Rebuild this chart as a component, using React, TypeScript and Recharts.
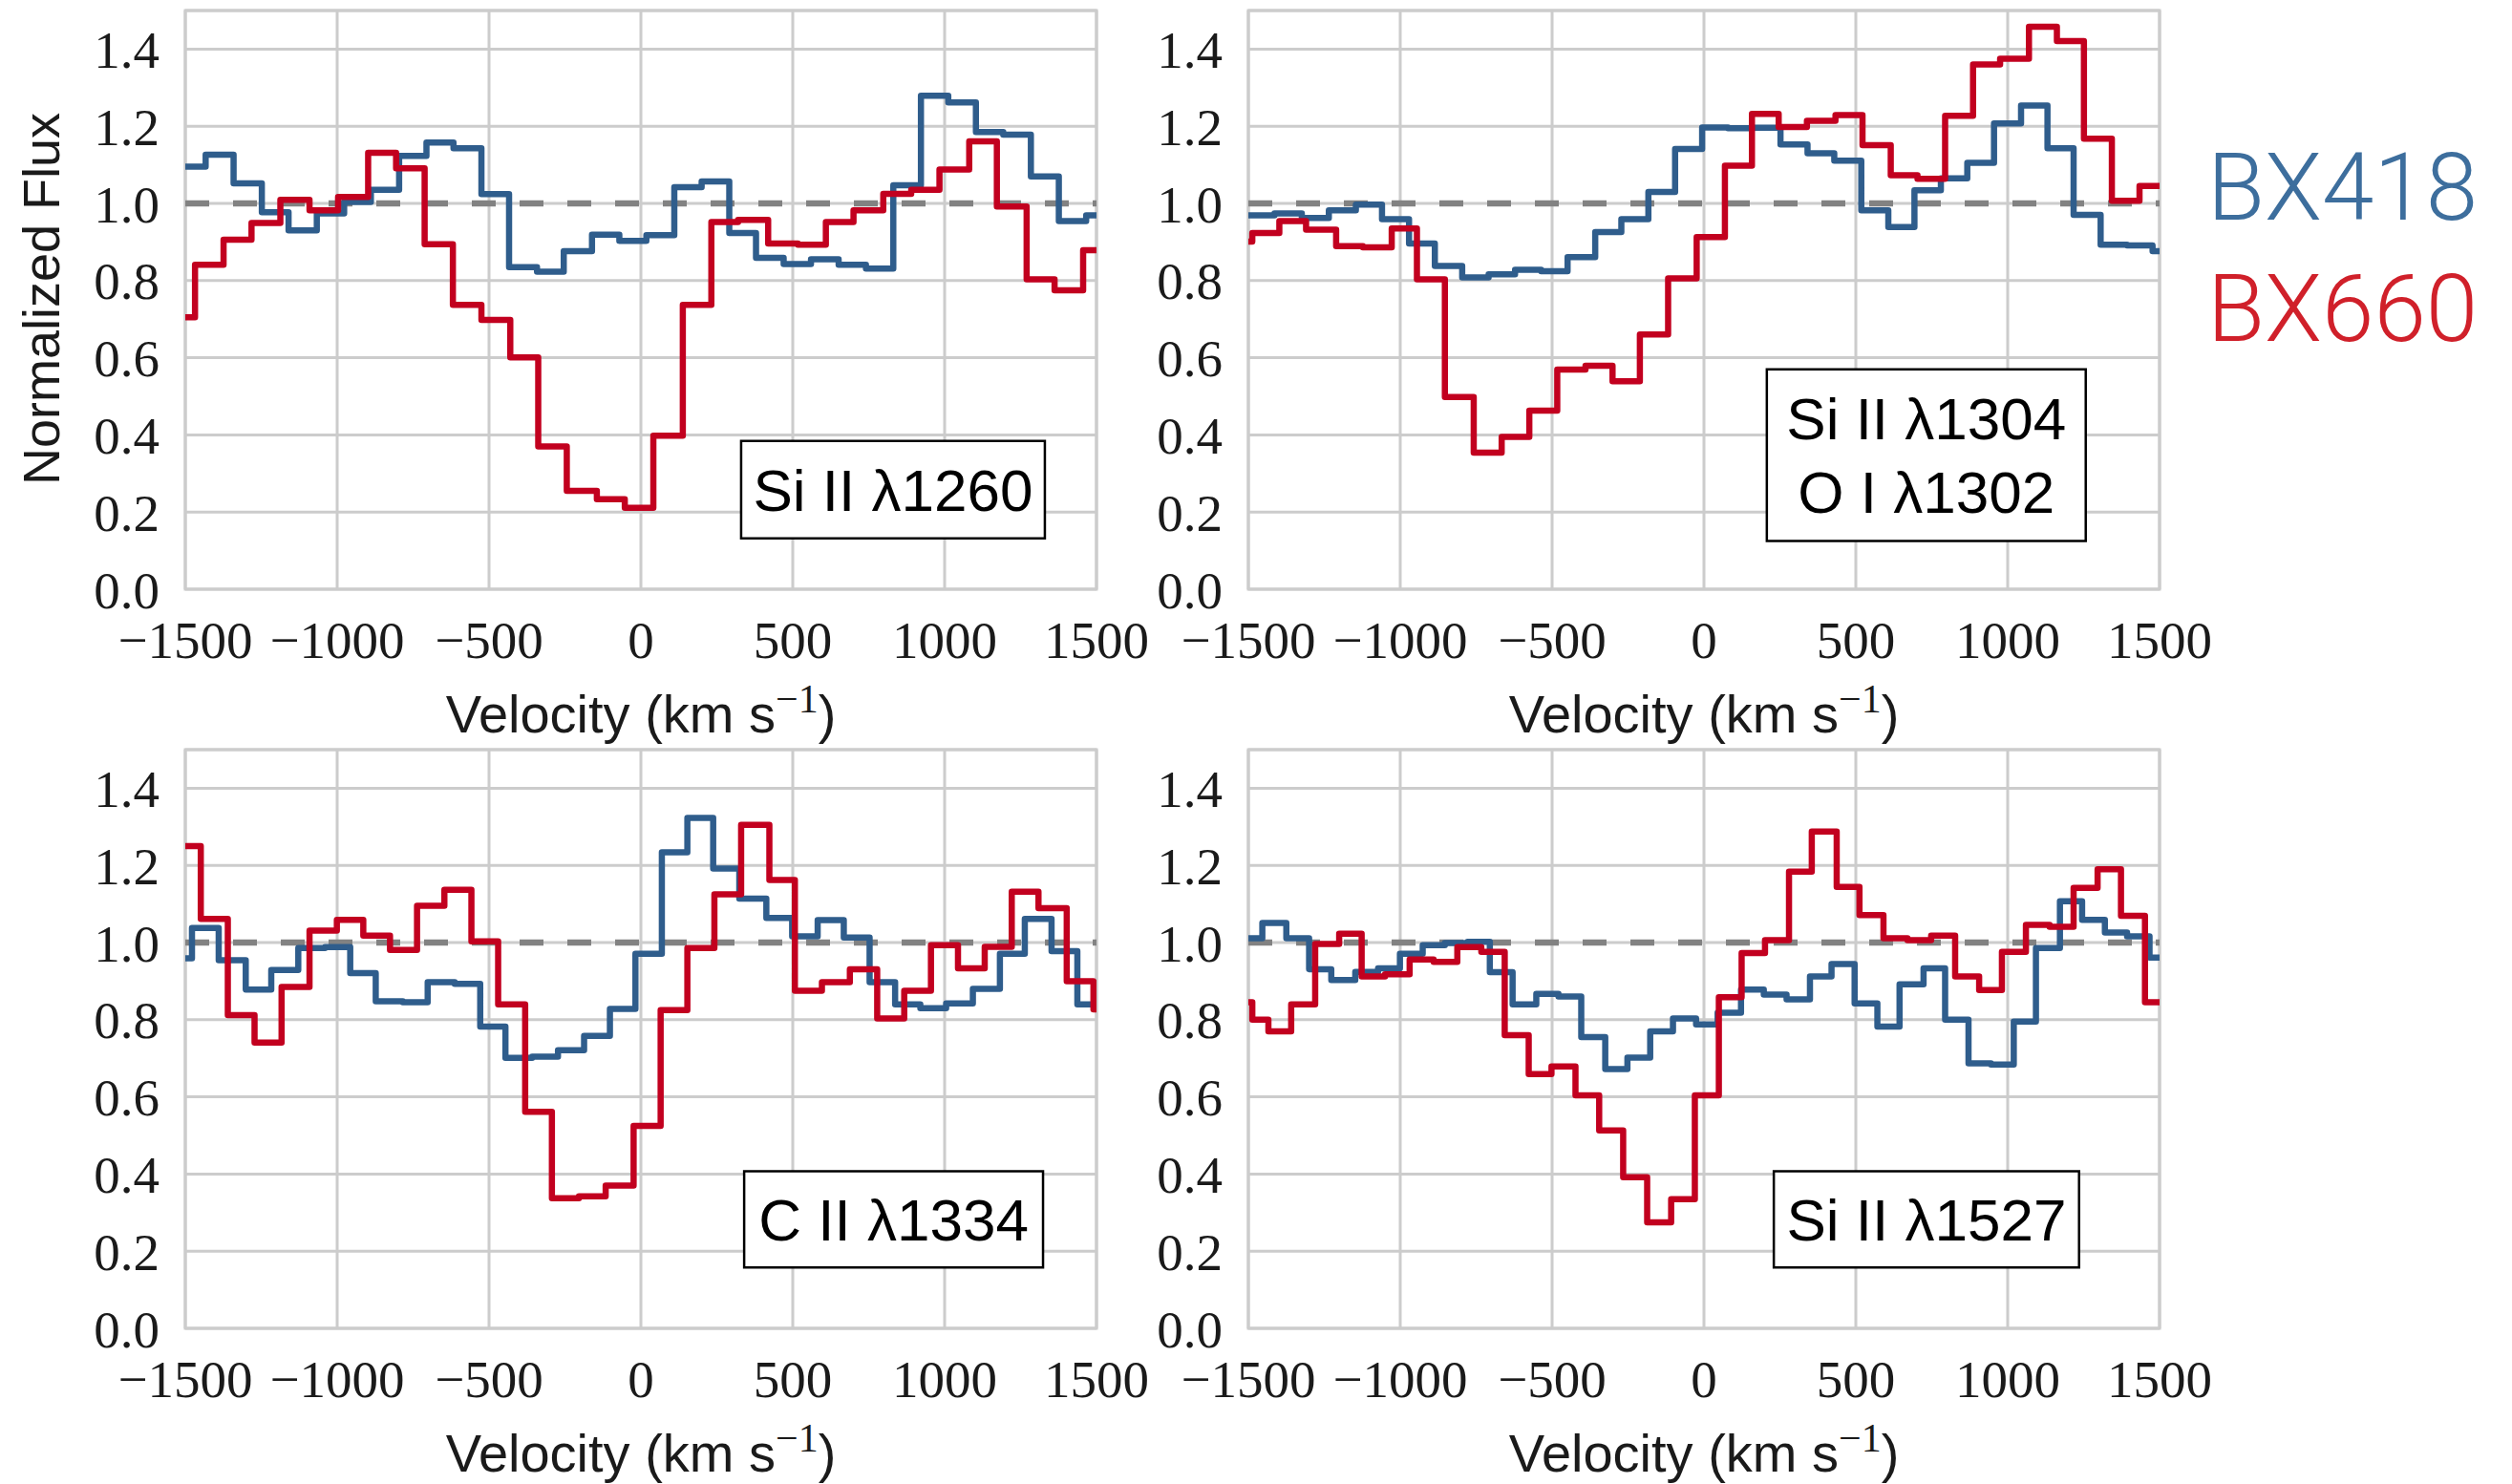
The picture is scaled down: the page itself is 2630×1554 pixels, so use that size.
import React from 'react';
import {
  LineChart,
  Line,
  XAxis,
  YAxis,
  CartesianGrid,
  ReferenceLine,
  ReferenceArea,
} from 'recharts';

// ---- axis ticks ----
const VELOCITY_TICKS = [-1500, -1000, -500, 0, 500, 1000, 1500];
const FLUX_TICKS = [0, 0.2, 0.4, 0.6, 0.8, 1.0, 1.2, 1.4];

// ---- Si II 1260 ----
const si1260VelBX418 = [-1500, -1433, -1341, -1248, -1160, -1067, -977, -889, -796, -706, -617, -525, -434, -342, -254, -161, -71, 18, 110, 200, 291, 379, 470, 560, 651, 741, 831, 922, 1012, 1103, 1193, 1284, 1376, 1466];
const si1260FluxBX418 = [1.095, 1.126, 1.052, 0.977, 0.93, 0.974, 1.004, 1.035, 1.123, 1.158, 1.143, 1.024, 0.835, 0.823, 0.876, 0.919, 0.903, 0.918, 1.042, 1.057, 0.923, 0.859, 0.843, 0.855, 0.841, 0.831, 1.047, 1.279, 1.262, 1.185, 1.178, 1.07, 0.954, 0.969];
const si1260VelBX660 = [-1500, -1468, -1374, -1282, -1187, -1091, -997, -898, -806, -712, -619, -525, -430, -338, -244, -145, -53, 41, 138, 232, 320, 419, 517, 609, 700, 798, 890, 983, 1081, 1172, 1270, 1362, 1456];
const si1260FluxBX660 = [0.705, 0.841, 0.906, 0.949, 1.009, 0.982, 1.017, 1.131, 1.091, 0.894, 0.737, 0.698, 0.601, 0.37, 0.255, 0.233, 0.211, 0.398, 0.737, 0.952, 0.957, 0.896, 0.893, 0.952, 0.982, 1.025, 1.035, 1.088, 1.161, 0.992, 0.803, 0.775, 0.879];

// ---- Si II 1304 / O I 1302 ----
const si1304VelBX418 = [-1500, -1414, -1324, -1235, -1146, -1060, -971, -886, -796, -709, -622, -536, -449, -358, -272, -183, -95, -6, 79, 163, 252, 341, 429, 518, 607, 693, 780, 867, 955, 1044, 1131, 1217, 1306, 1393, 1477];
const si1304FluxBX418 = [0.969, 0.974, 0.962, 0.982, 0.997, 0.959, 0.896, 0.838, 0.808, 0.816, 0.828, 0.824, 0.861, 0.926, 0.959, 1.03, 1.141, 1.197, 1.195, 1.196, 1.153, 1.13, 1.111, 0.982, 0.939, 1.034, 1.065, 1.105, 1.207, 1.254, 1.143, 0.97, 0.893, 0.891, 0.876];
const si1304VelBX660 = [-1500, -1487, -1398, -1310, -1211, -1123, -1028, -945, -853, -758, -666, -575, -483, -390, -301, -211, -118, -24, 69, 158, 246, 339, 433, 522, 615, 703, 794, 886, 975, 1070, 1162, 1251, 1343, 1434];
const si1304FluxBX660 = [0.901, 0.923, 0.954, 0.932, 0.889, 0.886, 0.935, 0.803, 0.498, 0.354, 0.395, 0.463, 0.569, 0.579, 0.539, 0.66, 0.806, 0.913, 1.098, 1.232, 1.198, 1.214, 1.229, 1.151, 1.073, 1.064, 1.227, 1.36, 1.375, 1.458, 1.421, 1.168, 1.007, 1.045];

// ---- C II 1334 ----
const c1334VelBX418 = [-1500, -1478, -1390, -1301, -1217, -1128, -1040, -957, -873, -784, -702, -613, -529, -446, -358, -273, -187, -102, -18, 69, 153, 238, 324, 413, 498, 582, 668, 753, 837, 920, 1005, 1093, 1182, 1264, 1352, 1437];
const c1334FluxBX418 = [0.959, 1.038, 0.954, 0.878, 0.929, 0.986, 0.988, 0.921, 0.848, 0.845, 0.897, 0.893, 0.782, 0.701, 0.704, 0.721, 0.758, 0.828, 0.971, 1.234, 1.323, 1.192, 1.114, 1.064, 1.016, 1.058, 1.013, 0.897, 0.84, 0.83, 0.842, 0.88, 0.971, 1.061, 0.978, 0.84];
const c1334VelBX660 = [-1500, -1449, -1360, -1272, -1183, -1091, -1001, -914, -826, -737, -647, -558, -470, -381, -293, -204, -116, -24, 65, 153, 242, 330, 423, 507, 596, 688, 778, 867, 955, 1044, 1132, 1221, 1309, 1402, 1490];
const c1334FluxBX660 = [1.25, 1.061, 0.812, 0.741, 0.885, 1.031, 1.059, 1.018, 0.981, 1.095, 1.137, 1.003, 0.84, 0.561, 0.337, 0.342, 0.37, 0.525, 0.825, 0.986, 1.125, 1.305, 1.162, 0.875, 0.897, 0.931, 0.803, 0.875, 0.993, 0.933, 0.989, 1.132, 1.089, 0.9, 0.827];

// ---- Si II 1527 ----
const si1527VelBX418 = [-1500, -1454, -1375, -1300, -1227, -1148, -1073, -1001, -926, -853, -778, -705, -630, -552, -479, -404, -325, -252, -177, -102, -26, 45, 122, 197, 272, 349, 420, 496, 571, 644, 723, 794, 871, 945, 1020, 1093, 1172, 1245, 1320, 1393, 1467];
const si1527FluxBX418 = [1.011, 1.051, 1.011, 0.931, 0.903, 0.924, 0.933, 0.971, 0.993, 0.999, 1.002, 0.923, 0.84, 0.867, 0.86, 0.755, 0.672, 0.702, 0.77, 0.803, 0.788, 0.818, 0.878, 0.865, 0.853, 0.912, 0.944, 0.842, 0.782, 0.892, 0.933, 0.8, 0.687, 0.684, 0.795, 0.986, 1.107, 1.059, 1.026, 1.016, 0.961];
const si1527VelBX660 = [-1500, -1487, -1434, -1359, -1280, -1201, -1127, -1050, -969, -890, -812, -733, -656, -577, -502, -423, -345, -266, -187, -108, -30, 49, 124, 201, 280, 355, 437, 512, 591, 670, 748, 827, 906, 981, 1060, 1138, 1217, 1296, 1373, 1452];
const si1527FluxBX660 = [0.845, 0.8, 0.77, 0.84, 0.996, 1.023, 0.912, 0.918, 0.956, 0.95, 0.988, 0.976, 0.76, 0.659, 0.679, 0.604, 0.513, 0.392, 0.275, 0.335, 0.604, 0.858, 0.973, 1.006, 1.184, 1.288, 1.144, 1.071, 1.011, 1.006, 1.018, 0.912, 0.877, 0.976, 1.046, 1.041, 1.142, 1.19, 1.069, 0.845];

// ---- styling ----
const BLUE_LINE = '#2f5d8c';
const RED_LINE = '#c2001f';
const BLUE_TEXT = '#3d6e9d';
const RED_TEXT = '#d0202a';
const GRID = '#cccccc';
const INK = '#1a1a1a';
const SERIF = '"Liberation Serif", "DejaVu Serif", serif';
const SANS = '"Liberation Sans", Arial, Helvetica, sans-serif';

const PLOT_W = 954;
const PLOT_H = 606;
const Y_AXIS_W = 194;
const MARGIN_TOP = 10;
const MARGIN_RIGHT = 70;
const X_AXIS_H = 170;

type Pt = { v: number; f: number };

// Binned spectrum: each value holds from its left bin edge to the next edge.
function toSteps(vel: number[], flux: number[]): Pt[] {
  const pts = vel.map((v, i) => ({ v, f: flux[i] }));
  pts.push({ v: 1500, f: flux[flux.length - 1] });
  return pts;
}

const fmtVel = (v: number) => (v < 0 ? '\u2212' + Math.abs(v) : String(v));
const fmtFlux = (v: number) => v.toFixed(1);

type Box = { x1: number; x2: number; y1: number; y2: number; lines: string[] };

const LABEL_FS = 62;
const LABEL_LINE = 77;

function BoxText(props: any) {
  const vb = props.viewBox || {};
  const lines: string[] = props.lines;
  const cx = vb.x + vb.width / 2;
  const cy = vb.y + vb.height / 2;
  const first = cy - ((lines.length - 1) * LABEL_LINE) / 2 + LABEL_FS * 0.36;
  return (
    <text textAnchor="middle" fontFamily={SANS} fontSize={LABEL_FS} fill="#000">
      {lines.map((s, i) => (
        <tspan key={i} x={cx} y={first + i * LABEL_LINE}>
          {s}
        </tspan>
      ))}
    </text>
  );
}

type PanelProps = {
  left: number;
  top: number;
  bx418: Pt[];
  bx660: Pt[];
  box: Box;
};

function Panel({ left, top, bx418, bx660, box }: PanelProps) {
  return (
    <div style={{ position: 'absolute', left: left - Y_AXIS_W, top: top - MARGIN_TOP }}>
      <LineChart
        width={Y_AXIS_W + PLOT_W + MARGIN_RIGHT}
        height={MARGIN_TOP + PLOT_H + X_AXIS_H}
        margin={{ top: MARGIN_TOP, right: MARGIN_RIGHT, bottom: 0, left: 0 }}
        style={{ overflow: 'visible' }}
      >
        <CartesianGrid stroke={GRID} strokeWidth={3} />
        <XAxis
          type="number"
          dataKey="v"
          domain={[-1500, 1500]}
          ticks={VELOCITY_TICKS}
          interval={0}
          allowDataOverflow
          height={X_AXIS_H}
          axisLine={false}
          tickLine={false}
          tickSize={0}
          tickMargin={33}
          tickFormatter={fmtVel}
          tick={{ fontFamily: SERIF, fontSize: 55, fill: INK }}
        />
        <YAxis
          type="number"
          domain={[0, 1.5]}
          ticks={FLUX_TICKS}
          interval={0}
          allowDataOverflow
          width={Y_AXIS_W}
          axisLine={false}
          tickLine={false}
          tickSize={0}
          tickMargin={27}
          tickFormatter={fmtFlux}
          tick={{ fontFamily: SERIF, fontSize: 55, fill: INK }}
        />
        <ReferenceArea x1={-1500} x2={1500} y1={0} y2={1.5} fill="none" stroke={GRID} strokeWidth={3} />
        <ReferenceLine y={1} stroke="#828282" strokeWidth={6.5} strokeDasharray="25 25" />
        <Line
          data={bx418}
          dataKey="f"
          type="stepAfter"
          stroke={BLUE_LINE}
          strokeWidth={6.5}
          strokeLinejoin="round"
          dot={false}
          activeDot={false}
          isAnimationActive={false}
        />
        <Line
          data={bx660}
          dataKey="f"
          type="stepAfter"
          stroke={RED_LINE}
          strokeWidth={6.5}
          strokeLinejoin="round"
          dot={false}
          activeDot={false}
          isAnimationActive={false}
        />
        <ReferenceArea
          x1={box.x1}
          x2={box.x2}
          y1={box.y1}
          y2={box.y2}
          fill="#ffffff"
          fillOpacity={1}
          stroke="#000000"
          strokeWidth={2.5}
          label={(p: any) => <BoxText viewBox={p.viewBox} lines={box.lines} />}
        />
      </LineChart>
    </div>
  );
}

function VelocityLabel({ cx, y }: { cx: number; y: number }) {
  return (
    <text x={cx} y={y} textAnchor="middle" fontFamily={SANS} fontSize={56} fill={INK}>
      Velocity (km s
      <tspan dy={-21} fontFamily={SERIF} fontSize={42}>
        {'\u2212'}1
      </tspan>
      <tspan dy={21}>)</tspan>
    </text>
  );
}

const LEFT_X = 194;
const RIGHT_X = 1307;
const TOP_Y = 11;
const BOTTOM_Y = 785;

export default function App() {
  return (
    <div style={{ position: 'absolute', left: 0, top: 0, width: 2630, height: 1554, background: '#fff' }}>
      <Panel
        left={LEFT_X}
        top={TOP_Y}
        bx418={toSteps(si1260VelBX418, si1260FluxBX418)}
        bx660={toSteps(si1260VelBX660, si1260FluxBX660)}
        box={{ x1: 330, x2: 1330, y1: 0.132, y2: 0.384, lines: ['Si II \u03bb1260'] }}
      />
      <Panel
        left={RIGHT_X}
        top={TOP_Y}
        bx418={toSteps(si1304VelBX418, si1304FluxBX418)}
        bx660={toSteps(si1304VelBX660, si1304FluxBX660)}
        box={{ x1: 207, x2: 1257, y1: 0.125, y2: 0.57, lines: ['Si II \u03bb1304', 'O I \u03bb1302'] }}
      />
      <Panel
        left={LEFT_X}
        top={BOTTOM_Y}
        bx418={toSteps(c1334VelBX418, c1334FluxBX418)}
        bx660={toSteps(c1334VelBX660, c1334FluxBX660)}
        box={{ x1: 340, x2: 1324, y1: 0.158, y2: 0.407, lines: ['C II \u03bb1334'] }}
      />
      <Panel
        left={RIGHT_X}
        top={BOTTOM_Y}
        bx418={toSteps(si1527VelBX418, si1527FluxBX418)}
        bx660={toSteps(si1527VelBX660, si1527FluxBX660)}
        box={{ x1: 230, x2: 1235, y1: 0.158, y2: 0.407, lines: ['Si II \u03bb1527'] }}
      />
      <svg
        width={2630}
        height={1554}
        style={{ position: 'absolute', left: 0, top: 0, pointerEvents: 'none' }}
      >
        <text
          transform="translate(62,313) rotate(-90)"
          textAnchor="middle"
          fontFamily={SANS}
          fontSize={54}
          fill={INK}
        >
          Normalized Flux
        </text>
        <VelocityLabel cx={LEFT_X + PLOT_W / 2} y={767} />
        <VelocityLabel cx={RIGHT_X + PLOT_W / 2} y={767} />
        <VelocityLabel cx={LEFT_X + PLOT_W / 2} y={1541} />
        <VelocityLabel cx={RIGHT_X + PLOT_W / 2} y={1541} />
        <text x={2311} y={230} fontFamily='Roboto, "Liberation Sans", sans-serif' fontWeight={300} fontSize={98} fill={BLUE_TEXT}>
          BX418
        </text>
        <text x={2311} y={357} fontFamily='Roboto, "Liberation Sans", sans-serif' fontWeight={300} fontSize={98} fill={RED_TEXT}>
          BX660
        </text>
      </svg>
    </div>
  );
}
